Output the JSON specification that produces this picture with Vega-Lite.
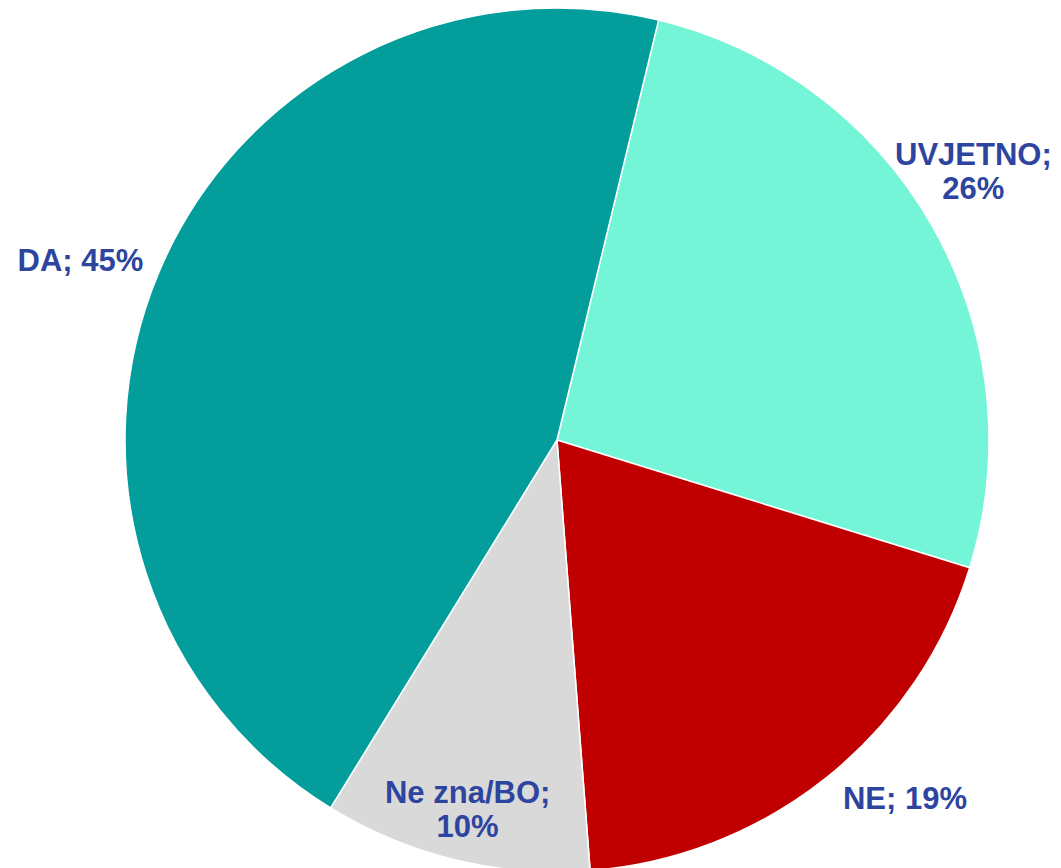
{
  "$schema": "https://vega.github.io/schema/vega-lite/v6.json",
  "autosize": {"type": "none"},
  "width": 864,
  "height": 864,
  "padding": {"left": 125, "top": 8, "right": 72, "bottom": 0},
  "background": "white",
  "config": {"view": {"stroke": null}},
  "data": {"values": [
    {"kategorija": "UVJETNO", "udio": 26, "redoslijed": 1, "oznaka": ["UVJETNO;", "26%"]},
    {"kategorija": "NE", "udio": 19, "redoslijed": 2, "oznaka": ["NE; 19%"]},
    {"kategorija": "Ne zna/BO", "udio": 10, "redoslijed": 3, "oznaka": ["Ne zna/BO;", "10%"]},
    {"kategorija": "DA", "udio": 45, "redoslijed": 4, "oznaka": ["DA; 45%"]}
  ]},
  "encoding": {
    "theta": {"field": "udio", "type": "quantitative", "stack": true, "scale": {"range": [0.2374, 6.5206]}},
    "order": {"field": "redoslijed", "type": "quantitative"}
  },
  "layer": [
    {
      "mark": {"type": "arc", "stroke": "white", "strokeWidth": 1.5},
      "encoding": {
        "color": {"field": "kategorija", "type": "nominal", "legend": null,
          "scale": {"domain": ["UVJETNO", "NE", "Ne zna/BO", "DA"], "range": ["#75F5D8", "#C00000", "#D9D9D9", "#039E9B"]}}
      }
    },
    {
      "mark": {"type": "text", "radius": 480, "dx": -1, "dy": -47, "font": "Liberation Sans", "fontWeight": "bold", "fontSize": 31, "lineHeight": 34, "fill": "#2E45A0", "baseline": "middle", "align": "center"},
      "encoding": {"text": {"condition": {"test": "datum.kategorija === 'UVJETNO'", "field": "oznaka"}, "value": ""}}
    },
    {
      "mark": {"type": "text", "radius": 460, "dx": 61, "dy": 0, "font": "Liberation Sans", "fontWeight": "bold", "fontSize": 31, "lineHeight": 34, "fill": "#2E45A0", "baseline": "middle", "align": "center"},
      "encoding": {"text": {"condition": {"test": "datum.kategorija === 'NE'", "field": "oznaka"}, "value": ""}}
    },
    {
      "mark": {"type": "text", "radius": 380, "dx": 0, "dy": -15, "font": "Liberation Sans", "fontWeight": "bold", "fontSize": 31, "lineHeight": 34, "fill": "#2E45A0", "baseline": "middle", "align": "center"},
      "encoding": {"text": {"condition": {"test": "datum.kategorija === 'Ne zna/BO'", "field": "oznaka"}, "value": ""}}
    },
    {
      "mark": {"type": "text", "radius": 500, "dx": -15, "dy": 14, "font": "Liberation Sans", "fontWeight": "bold", "fontSize": 31, "lineHeight": 34, "fill": "#2E45A0", "baseline": "middle", "align": "center"},
      "encoding": {"text": {"condition": {"test": "datum.kategorija === 'DA'", "field": "oznaka"}, "value": ""}}
    }
  ]
}
